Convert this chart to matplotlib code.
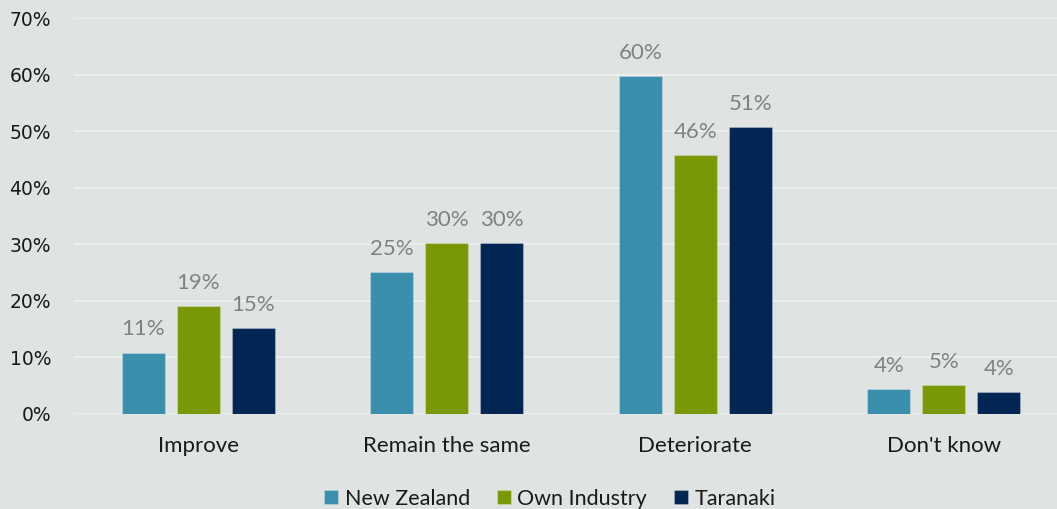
import matplotlib.pyplot as plt
import numpy as np

# survey categories and the three series (percent of respondents)
categories = ["Improve", "Remain the same", "Deteriorate", "Don't know"]
series_names = ["New Zealand", "Own Industry", "Taranaki"]
new_zealand = [10.8, 25.1, 59.7, 4.4]
own_industry = [19.1, 30.2, 45.7, 5.0]
taranaki = [15.2, 30.2, 50.7, 3.8]
y_ticks = [0, 10, 20, 30, 40, 50, 60, 70]

colors = ["#3A8FAD", "#789904", "#022653"]
bg = "#DFE3E2"
label_grey = "#7F8283"

plt.rcParams["font.family"] = ["Lato", "DejaVu Sans"]

fig = plt.figure(figsize=(10.57, 5.09), dpi=100, facecolor=bg)
ax = fig.add_axes([74 / 1057, 0.1872, 994 / 1057, 0.7774])
ax.set_facecolor(bg)

x = np.arange(len(categories))
width = 0.173
step = 0.2213
all_series = [new_zealand, own_industry, taranaki]

for i, (name, vals, col) in enumerate(zip(series_names, all_series, colors)):
    pos = x + (i - 1) * step
    bars = ax.bar(pos, vals, width=width, color=col, label=name,
                  edgecolor="#FFFFFF40", linewidth=0.8, zorder=3)
    for b, v in zip(bars, vals):
        ax.annotate(f"{v:.0f}%", (b.get_x() + b.get_width() / 2, v),
                    xytext=(0, 9.5), textcoords="offset points",
                    ha="center", va="bottom", fontsize=16, color=label_grey)

ax.set_xlim(-0.5, len(categories) - 0.5)
ax.set_ylim(0, 70)
ax.set_yticks(y_ticks)
ax.set_yticklabels([f"{t}%" for t in y_ticks], fontsize=13.5, color="#1A1A1A",
                   family="DejaVu Sans")
ax.set_xticks(x)
ax.set_xticklabels(categories, fontsize=16, color="#1A1A1A")
ax.tick_params(axis="both", length=0)
ax.tick_params(axis="y", pad=16.5)
ax.tick_params(axis="x", pad=16)

ax.grid(axis="y", color="#ECEEEE", linewidth=1.5, zorder=0)
for s in ax.spines.values():
    s.set_visible(False)

fig.legend(loc="center", bbox_to_anchor=(550 / 1057, 0.02), ncol=3, frameon=False,
           fontsize=15.5, handlelength=0.65, handleheight=0.65, handletextpad=0.3,
           columnspacing=1.25, labelcolor="#1A1A1A")

fig.savefig("out.png", dpi=100, facecolor=bg)
